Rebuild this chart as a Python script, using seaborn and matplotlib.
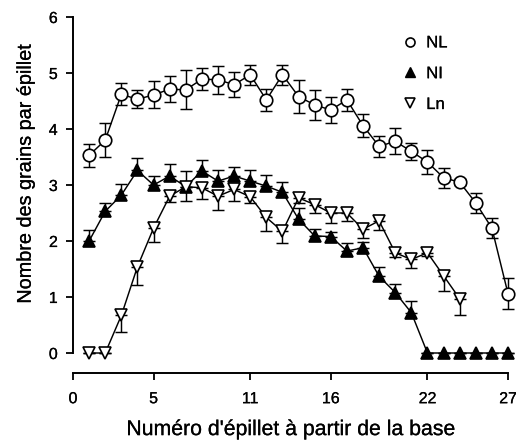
import numpy as np
import pandas as pd
import matplotlib
matplotlib.use("Agg")
import matplotlib.pyplot as plt
import matplotlib.patheffects as pe
from matplotlib.lines import Line2D
import seaborn as sns

# ---- data ----
spikelet = list(range(1, 28))

nl_mean = [3.53, 3.80, 4.62, 4.53, 4.61, 4.71, 4.70, 4.89, 4.88, 4.79,
           4.97, 4.52, 4.97, 4.58, 4.43, 4.34, 4.52, 4.06, 3.69, 3.78,
           3.60, 3.41, 3.13, 3.05, 2.68, 2.23, 1.06]
nl_err = [0.20, 0.30, 0.20, 0.16, 0.24, 0.23, 0.35, 0.20, 0.25, 0.22,
          0.18, 0.20, 0.18, 0.30, 0.27, 0.24, 0.20, 0.21, 0.19, 0.23,
          0.15, 0.21, 0.18, 0.05, 0.18, 0.18, 0.28]

ni_mean = [2.00, 2.53, 2.82, 3.26, 3.00, 3.16, 2.97, 3.25, 3.07, 3.16,
           3.07, 2.98, 2.87, 2.39, 2.09, 2.08, 1.82, 1.88, 1.37, 1.08,
           0.72, 0.00, 0.00, 0.00, 0.00, 0.00, 0.00]
ni_err = [0.20, 0.14, 0.20, 0.22, 0.16, 0.22, 0.28, 0.20, 0.20, 0.17,
          0.19, 0.20, 0.18, 0.20, 0.12, 0.08, 0.15, 0.10, 0.16, 0.15,
          0.21, 0.00, 0.00, 0.00, 0.00, 0.00, 0.00]

ln_spikelet = list(range(1, 25))
ln_mean = [0.00, 0.00, 0.67, 1.54, 2.23, 2.80, 2.97, 2.95, 2.80, 2.92,
           2.79, 2.42, 2.17, 2.77, 2.65, 2.50, 2.50, 2.21, 2.36, 1.79,
           1.67, 1.79, 1.38, 0.97]
ln_err = [0.00, 0.00, 0.30, 0.33, 0.25, 0.10, 0.25, 0.20, 0.24, 0.20,
          0.12, 0.24, 0.20, 0.10, 0.15, 0.17, 0.15, 0.15, 0.17, 0.08,
          0.15, 0.05, 0.27, 0.30]

x_ticks = [0, 5, 11, 16, 22, 27]
y_ticks = [0, 1, 2, 3, 4, 5, 6]
labels = ["NL", "NI", "Ln"]

# ---- figure ----
sns.set_theme(style="ticks")
plt.rcParams['font.family'] = ['Liberation Sans', 'DejaVu Sans']
plt.rcParams['text.color'] = 'black'
plt.rcParams['axes.labelcolor'] = 'black'
plt.rcParams['xtick.color'] = 'black'
plt.rcParams['ytick.color'] = 'black'
plt.rcParams['axes.edgecolor'] = 'black'

fig = plt.figure(figsize=(5.16, 4.45), dpi=100)
ax = fig.add_axes([73/516, 1-353/445, (508-73)/516, (353-17)/445])

df_nl = pd.DataFrame({"x": spikelet, "y": nl_mean})
df_ni = pd.DataFrame({"x": spikelet, "y": ni_mean})
df_ln = pd.DataFrame({"x": ln_spikelet, "y": ln_mean})

lw = 1.05
cap = 4.3
ekw = dict(fmt="none", ecolor="black", elinewidth=lw, capsize=cap,
           capthick=lw, clip_on=False, zorder=2)

# error bars: NL both sides, NI upward, Ln downward
ax.errorbar(spikelet, nl_mean, yerr=nl_err, **ekw)
ax.errorbar(spikelet, ni_mean, yerr=[np.zeros(len(ni_err)), ni_err], **ekw)
ax.errorbar(ln_spikelet, ln_mean, yerr=[ln_err, np.zeros(len(ln_err))], **ekw)

common = dict(color="black", linewidth=lw, markeredgecolor="black",
              markeredgewidth=1.2, clip_on=False, zorder=3, legend=False)
sns.lineplot(data=df_nl, x="x", y="y", ax=ax, marker="o", markersize=9,
             markerfacecolor="white", **common)
sns.lineplot(data=df_ni, x="x", y="y", ax=ax, marker="^", markersize=8.5,
             markerfacecolor="black", **common)
sns.lineplot(data=df_ln, x="x", y="y", ax=ax, marker="v", markersize=9,
             markerfacecolor="white", **common)

ax.set_xlim(0, 27)
ax.set_ylim(0, 6)
ax.set_xticks(x_ticks)
ax.set_yticks(y_ticks)

for s in ["top", "right"]:
    ax.spines[s].set_visible(False)
ax.spines["left"].set_linewidth(1.4)
ax.spines["bottom"].set_linewidth(1.4)
ax.spines["bottom"].set_position(("outward", 14.5))

ax.tick_params(axis="x", direction="out", length=5, width=1.3, labelsize=11.5, pad=8)
ax.tick_params(axis="y", direction="out", length=5, width=1.3, labelsize=11.5, pad=6)

ax.set_xlabel("Numéro d'épillet à partir de la base", fontsize=15.3, labelpad=10)
ax.set_ylabel("Nombre des grains par épillet", fontsize=14.3)
ax.yaxis.set_label_coords(-0.088, 0.535)

handles = [
    Line2D([], [], linestyle="none", marker="o", markersize=6.5, markerfacecolor="white",
           markeredgecolor="black", markeredgewidth=1.2),
    Line2D([], [], linestyle="none", marker="^", markersize=6.5, markerfacecolor="black",
           markeredgecolor="black"),
    Line2D([], [], linestyle="none", marker="v", markersize=6.5, markerfacecolor="white",
           markeredgecolor="black", markeredgewidth=1.2),
]
leg = ax.legend(handles, labels, loc="upper left", bbox_to_anchor=(0.722, 0.99),
                frameon=False, fontsize=12, handlelength=1.0, handletextpad=0.45,
                labelspacing=0.95)

# very slight thickening of text, like the printed original
stroke = [pe.withStroke(linewidth=0.15, foreground="black")]
texts = (ax.get_xticklabels() + ax.get_yticklabels()
         + [ax.xaxis.label, ax.yaxis.label] + leg.get_texts())
for t in texts:
    t.set_path_effects(stroke)

fig.savefig("out.png", dpi=100, facecolor="white")
